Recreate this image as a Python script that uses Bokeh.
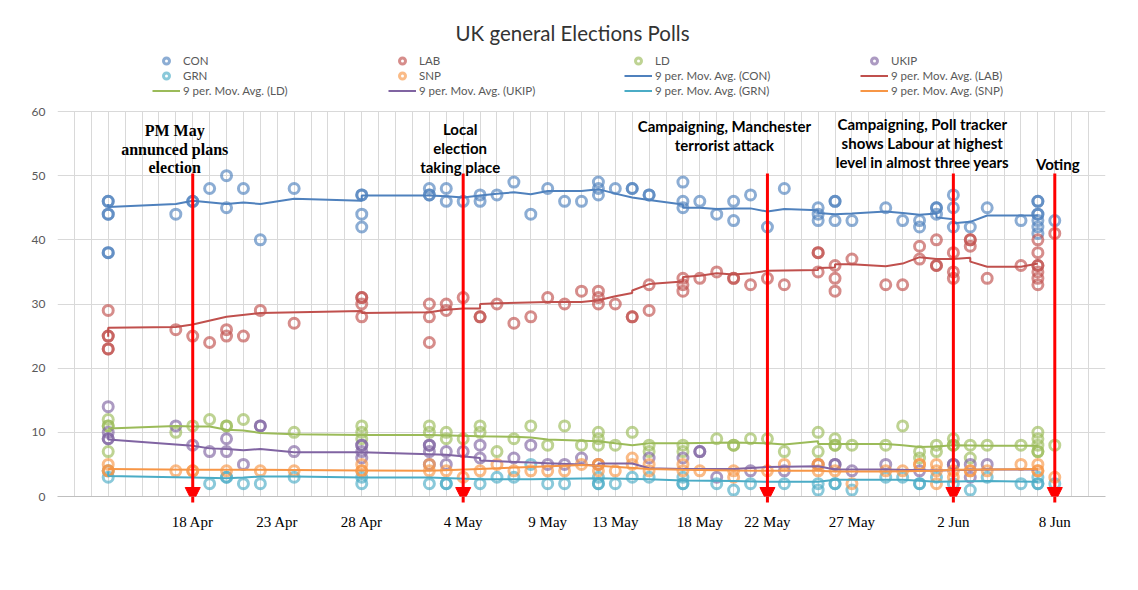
import datetime as dt
from bokeh.plotting import figure
from bokeh.models import (FixedTicker, Legend, LegendItem, Label, Arrow, NormalHead, Range1d, Grid)
from bokeh.embed import file_html
from bokeh.resources import INLINE

# ---------------- data (poll shares, %) ----------------
START = dt.date(2017, 4, 10)

con = {"13 Apr": [46, 46, 44, 44, 38, 38], "17 Apr": [44], "18 Apr": [46, 46], "19 Apr": [48],
       "20 Apr": [50, 45], "21 Apr": [48], "22 Apr": [40], "24 Apr": [48], "28 Apr": [47, 47, 44, 42],
       "2 May": [48, 47, 47], "3 May": [48, 46], "4 May": [46], "5 May": [47, 46], "6 May": [47],
       "7 May": [49], "8 May": [44], "9 May": [48], "10 May": [46], "11 May": [46], "12 May": [49, 48, 47],
       "13 May": [48], "14 May": [48, 48], "15 May": [47, 47], "17 May": [49, 46, 45], "18 May": [46],
       "19 May": [44], "20 May": [46, 43], "21 May": [47], "22 May": [42], "23 May": [48],
       "25 May": [45, 44, 43], "26 May": [46, 46, 43], "27 May": [43], "29 May": [45], "30 May": [43],
       "31 May": [43, 42], "1 Jun": [45, 45, 44], "2 Jun": [47, 45, 42], "3 Jun": [42], "4 Jun": [45],
       "6 Jun": [43], "7 Jun": [46, 46, 44, 44, 43, 42, 41], "8 Jun": [43]}

lab = {"13 Apr": [29, 25, 25, 23, 23], "17 Apr": [26], "18 Apr": [25], "19 Apr": [24], "20 Apr": [26, 25],
       "21 Apr": [25], "22 Apr": [29], "24 Apr": [27], "28 Apr": [31, 31, 30, 28], "2 May": [30, 28, 24],
       "3 May": [30, 29], "4 May": [31], "5 May": [28, 28], "6 May": [30], "7 May": [27], "8 May": [28],
       "9 May": [31], "10 May": [30], "11 May": [32], "12 May": [32, 31, 30], "13 May": [30],
       "14 May": [28, 28], "15 May": [33, 29], "17 May": [34, 33, 32], "18 May": [34], "19 May": [35],
       "20 May": [34, 34], "21 May": [33], "22 May": [34], "23 May": [33], "25 May": [38, 38, 35],
       "26 May": [36, 34, 32], "27 May": [37], "29 May": [33], "30 May": [33], "31 May": [39, 37],
       "1 Jun": [40, 36, 36], "2 Jun": [38, 35, 34], "3 Jun": [40, 40, 39], "4 Jun": [34], "6 Jun": [36],
       "7 Jun": [40, 38, 36, 36, 35, 34, 33], "8 Jun": [41]}

ld = {"13 Apr": [12, 11, 11, 7], "17 Apr": [10], "18 Apr": [11], "19 Apr": [12], "20 Apr": [11, 11],
      "21 Apr": [12], "24 Apr": [10], "28 Apr": [11, 10, 9], "2 May": [11, 10], "3 May": [10, 9],
      "4 May": [9], "5 May": [11, 10], "6 May": [7], "7 May": [9], "8 May": [11], "9 May": [8],
      "10 May": [11], "11 May": [8], "12 May": [10, 9, 8], "13 May": [8], "14 May": [10], "15 May": [8, 7],
      "17 May": [8, 7], "19 May": [9], "20 May": [8, 8], "21 May": [9], "22 May": [9], "23 May": [7],
      "25 May": [10, 7], "26 May": [9, 8, 8], "27 May": [8], "29 May": [8], "30 May": [11],
      "31 May": [7, 6], "1 Jun": [8, 7], "2 Jun": [9, 8, 8], "3 Jun": [8, 6], "4 Jun": [8], "6 Jun": [8],
      "7 Jun": [10, 9, 8, 7, 7], "8 Jun": [8]}

ukip = {"13 Apr": [14, 10, 9, 9], "17 Apr": [11], "18 Apr": [8], "19 Apr": [7], "20 Apr": [9, 7],
        "21 Apr": [5], "22 Apr": [11, 11], "24 Apr": [7], "28 Apr": [8, 8, 7, 6], "2 May": [8, 8, 7, 5],
        "3 May": [7, 5], "4 May": [7], "5 May": [8, 6], "7 May": [6], "8 May": [8], "9 May": [5],
        "10 May": [5], "11 May": [6], "12 May": [5], "15 May": [6], "17 May": [6], "18 May": [7, 7],
        "19 May": [3], "21 May": [4], "23 May": [4], "25 May": [5], "26 May": [5, 5], "27 May": [4],
        "29 May": [5], "31 May": [4], "2 Jun": [5, 5], "3 Jun": [5, 3], "4 Jun": [5]}

grn = {"13 Apr": [4, 3], "19 Apr": [2], "20 Apr": [3, 3], "21 Apr": [2], "22 Apr": [2], "24 Apr": [3],
       "28 Apr": [3, 2], "2 May": [2], "3 May": [2, 2], "5 May": [2], "6 May": [3], "7 May": [3],
       "8 May": [5], "9 May": [2], "10 May": [2], "12 May": [3, 2, 2], "13 May": [2], "14 May": [3],
       "15 May": [3], "17 May": [3, 2, 2], "19 May": [2], "20 May": [1], "21 May": [2], "23 May": [2],
       "25 May": [2, 1], "26 May": [2, 2], "27 May": [1], "29 May": [3], "30 May": [3], "31 May": [2, 2],
       "1 Jun": [3], "2 Jun": [2], "3 Jun": [1], "4 Jun": [3], "6 Jun": [2], "7 Jun": [3, 2, 2],
       "8 Jun": [2]}

snp = {"13 Apr": [5, 4, 4], "17 Apr": [4], "18 Apr": [4, 4], "20 Apr": [4], "22 Apr": [4], "24 Apr": [4],
       "28 Apr": [5, 4, 4], "2 May": [5, 4], "3 May": [4], "4 May": [3], "5 May": [4], "6 May": [5],
       "7 May": [4], "8 May": [4], "9 May": [4], "10 May": [4], "11 May": [5], "12 May": [5, 5, 4],
       "13 May": [4], "14 May": [6, 5], "15 May": [5, 4], "17 May": [5, 4], "18 May": [4],
       "20 May": [4, 3], "22 May": [4], "23 May": [5], "25 May": [5, 5, 4], "26 May": [4], "27 May": [2],
       "29 May": [4], "30 May": [4], "31 May": [5, 5], "1 Jun": [5, 4, 2], "2 Jun": [4, 3], "3 Jun": [4, 4],
       "4 Jun": [4], "6 Jun": [5], "7 Jun": [5, 4, 4], "8 Jun": [3]}

# 9 period moving averages
ma_con = [("13 Apr", 45.6), ("13 Apr", 45.1), ("17 Apr", 45.6), ("18 Apr", 46.1), ("20 Apr", 45.6),
          ("21 Apr", 45.8), ("22 Apr", 45.6), ("24 Apr", 46.4), ("28 Apr", 46.1), ("28 Apr", 46.9),
          ("2 May", 46.9), ("3 May", 46.8), ("4 May", 46.6), ("5 May", 46.9), ("6 May", 47.2),
          ("7 May", 47.4), ("8 May", 47.1), ("9 May", 47.6), ("11 May", 47.6), ("12 May", 47.9),
          ("13 May", 47.2), ("14 May", 46.6), ("15 May", 46.2), ("17 May", 45.5), ("17 May", 45.0),
          ("18 May", 45.0), ("19 May", 44.8), ("20 May", 44.9), ("21 May", 44.9), ("22 May", 44.4),
          ("23 May", 44.8), ("25 May", 44.6), ("25 May", 44.2), ("26 May", 44.0), ("27 May", 44.1),
          ("29 May", 44.4), ("30 May", 44.2), ("31 May", 43.9), ("1 Jun", 44.1), ("1 Jun", 43.5),
          ("2 Jun", 43.2), ("2 Jun", 42.6), ("3 Jun", 42.8), ("4 Jun", 43.8), ("6 Jun", 43.8),
          ("7 Jun", 43.8)]
ma_lab = [("13 Apr", 24.9), ("13 Apr", 26.3), ("17 Apr", 26.4), ("18 Apr", 26.8), ("20 Apr", 28.0),
          ("22 Apr", 28.6), ("28 Apr", 28.9), ("28 Apr", 28.6), ("2 May", 28.7), ("3 May", 29.1),
          ("4 May", 29.3), ("5 May", 29.3), ("5 May", 30.0), ("6 May", 30.1), ("9 May", 30.3),
          ("11 May", 30.3), ("12 May", 30.6), ("13 May", 31.2), ("14 May", 31.7), ("14 May", 32.1),
          ("15 May", 33.1), ("17 May", 33.5), ("17 May", 34.2), ("18 May", 34.4), ("19 May", 34.8),
          ("20 May", 34.6), ("21 May", 34.8), ("22 May", 35.2), ("25 May", 35.3), ("25 May", 35.6),
          ("26 May", 35.7), ("26 May", 36.2), ("27 May", 36.2), ("29 May", 35.9), ("30 May", 36.3),
          ("31 May", 37.3), ("1 Jun", 37.0), ("2 Jun", 37.0), ("3 Jun", 37.2), ("3 Jun", 36.6),
          ("4 Jun", 35.8), ("6 Jun", 35.8), ("7 Jun", 36.3)]
ma_ld = [("13 Apr", 10.6), ("17 Apr", 11.0), ("18 Apr", 10.9), ("19 Apr", 10.9), ("20 Apr", 10.4),
         ("21 Apr", 10.3), ("22 Apr", 9.9), ("24 Apr", 9.7), ("28 Apr", 9.6), ("2 May", 9.6),
         ("5 May", 9.4), ("7 May", 9.3), ("8 May", 9.2), ("9 May", 8.9), ("12 May", 8.6), ("14 May", 8.0),
         ("15 May", 8.3), ("17 May", 8.3), ("20 May", 8.4), ("22 May", 8.3), ("23 May", 8.1),
         ("25 May", 8.6), ("25 May", 8.2), ("26 May", 8.2), ("29 May", 8.2), ("30 May", 8.0),
         ("31 May", 7.7), ("1 Jun", 7.8), ("2 Jun", 8.0), ("4 Jun", 7.9), ("7 Jun", 7.9)]
ma_ukip = [("13 Apr", 9.9), ("13 Apr", 8.9), ("18 Apr", 7.9), ("19 Apr", 7.5), ("20 Apr", 7.4),
           ("21 Apr", 7.2), ("22 Apr", 7.4), ("24 Apr", 6.9), ("28 Apr", 6.9), ("2 May", 6.6),
           ("3 May", 6.5), ("5 May", 6.0), ("5 May", 5.6), ("8 May", 5.3), ("9 May", 5.2), ("11 May", 5.0),
           ("12 May", 4.8), ("12 May", 5.15), ("14 May", 5.15), ("15 May", 4.4), ("17 May", 4.3),
           ("20 May", 4.3), ("22 May", 4.6), ("25 May", 4.7), ("26 May", 4.2), ("29 May", 4.2),
           ("1 Jun", 4.05), ("4 Jun", 4.2), ("7 Jun", 4.2)]
ma_grn = [("13 Apr", 3.9), ("13 Apr", 3.2), ("17 Apr", 3.0), ("18 Apr", 2.95), ("20 Apr", 2.85),
          ("21 Apr", 2.95), ("22 Apr", 3.1), ("24 Apr", 3.1), ("28 Apr", 2.95), ("2 May", 2.95),
          ("5 May", 2.7), ("8 May", 2.7), ("12 May", 2.85), ("15 May", 2.7), ("17 May", 2.5),
          ("20 May", 2.4), ("22 May", 2.3), ("25 May", 2.3), ("26 May", 2.6), ("30 May", 2.6),
          ("1 Jun", 2.3), ("4 Jun", 2.4), ("7 Jun", 2.3)]
ma_snp = [("13 Apr", 4.3), ("18 Apr", 4.15), ("22 Apr", 4.15), ("28 Apr", 4.05), ("2 May", 4.0),
          ("5 May", 4.3), ("8 May", 4.6), ("11 May", 4.9), ("12 May", 4.8), ("15 May", 4.3),
          ("17 May", 4.15), ("20 May", 4.05), ("22 May", 4.0), ("25 May", 4.0), ("26 May", 3.9),
          ("29 May", 3.9), ("1 Jun", 4.0), ("2 Jun", 4.15), ("7 Jun", 4.3)]

tick_labels = ["18 Apr", "23 Apr", "28 Apr", "4 May", "9 May", "13 May", "18 May", "22 May",
               "27 May", "2 Jun", "8 Jun"]

events = [("18 Apr", ["PM May", "annunced plans", "election"], "serif", -18, 130),
          ("4 May", ["Local", "election", "taking place"], "sans", -3, 128),
          ("22 May", ["Campaigning, Manchester", "terrorist attack"], "sans", -43, 125),
          ("2 Jun", ["Campaigning, Poll tracker", "shows Labour at highest",
                     "level in almost three years"], "sans", -31, 123),
          ("8 Jun", ["Voting"], "sans", 3, 163)]

series = [("CON", con, ma_con, "#4F81BD"), ("LAB", lab, ma_lab, "#C0504D"),
          ("LD", ld, ma_ld, "#9BBB59"), ("UKIP", ukip, ma_ukip, "#8064A2"),
          ("GRN", grn, ma_grn, "#4BACC6"), ("SNP", snp, ma_snp, "#F79646")]


def day(s):
    return (dt.datetime.strptime(s + " 2017", "%d %b %Y").date() - START).days


# ---------------- layout geometry (page px) ----------------
W, H = 1130, 582
FL, FW = 57, 1048            # frame left / width
Y60, Y0 = 111, 496           # page y of value 60 and of value 0
FT = 50                      # frame top (frame extends above 60 to host the legend)
NDAYS = 62
PXV = (Y0 - Y60) / 60.0
YMAX = (Y0 - FT) / PXV


def pv(py):
    return (Y0 - py) / PXV


p = figure(width=W, height=H, x_range=Range1d(0, NDAYS), y_range=Range1d(0, YMAX),
           output_backend="svg", toolbar_location=None,
           min_border_left=FL, min_border_right=W - FL - FW,
           min_border_top=FT, min_border_bottom=H - Y0)
p.outline_line_color = None
p.background_fill_color = "white"
p.border_fill_color = "white"

p.title.text = "UK general Elections Polls"
p.title.align = "left"
p.title.offset = 455 - FL
p.title.text_font = "Lato"
p.title.text_font_size = "20.5px"
p.title.text_font_style = "normal"
p.title.text_color = "#333333"
p.title.standoff = FT - 5 - 33

p.xaxis.ticker = FixedTicker(ticks=[day(t) for t in tick_labels])
p.xaxis.major_label_overrides = {day(t): t for t in tick_labels}
p.xaxis.axis_line_color = "#bfbfbf"
p.xaxis.major_tick_line_color = None
p.xaxis.minor_tick_line_color = None
p.xaxis.major_tick_out = 0
p.xaxis.major_label_standoff = 17
p.xaxis.major_label_text_font = "Liberation Serif"
p.xaxis.major_label_text_font_size = "15px"
p.xaxis.major_label_text_color = "black"

p.yaxis.ticker = FixedTicker(ticks=list(range(0, 61, 10)))
p.yaxis.axis_line_color = None
p.yaxis.major_tick_line_color = None
p.yaxis.minor_tick_line_color = None
p.yaxis.major_tick_out = 0
p.yaxis.major_label_standoff = 12
p.yaxis.major_label_text_font = "Lato"
p.yaxis.major_label_text_font_size = "12px"
p.yaxis.major_label_text_color = "#595959"

p.ygrid.ticker = FixedTicker(ticks=list(range(0, 61, 10)))
p.ygrid.grid_line_color = "#d9d9d9"

grid_days = list(range(0, NDAYS + 1))
if "cross_bounds" in Grid.properties():
    p.xgrid.ticker = FixedTicker(ticks=grid_days)
    p.xgrid.grid_line_color = "#d9d9d9"
    p.xgrid.cross_bounds = (0, 60)
else:
    p.xgrid.grid_line_color = None
    p.segment(x0=grid_days, y0=[0] * len(grid_days), x1=grid_days, y1=[60] * len(grid_days),
              line_color="#d9d9d9", line_width=1)

marker_r = {}
for name, pts, ma, col in series:
    xs, ys = [], []
    for d, vals in pts.items():
        for v in vals:
            xs.append(day(d))
            ys.append(v)
    marker_r[name] = p.scatter(xs, ys, marker="circle", size=10, fill_color=None,
                               line_color=col, line_width=3, line_alpha=0.65)

line_r = {}
for name, pts, ma, col in series:
    line_r[name] = p.line([day(d) for d, v in ma], [v for d, v in ma],
                          line_color=col, line_width=2)

names = ["CON", "LAB", "LD", "UKIP", "GRN", "SNP"]
items = [LegendItem(label=n, renderers=[marker_r[n]]) for n in names]
items += [LegendItem(label="9 per. Mov. Avg. (%s)" % n, renderers=[line_r[n]]) for n in names]

legend = Legend(items=items, orientation="horizontal", ncols=4,
                location=(152 - FL, Y0 - 97.5),
                glyph_width=28, glyph_height=15, label_height=15, label_width=205,
                label_standoff=3, spacing=0, padding=0, margin=0,
                border_line_color=None, background_fill_alpha=0,
                label_text_font="Lato", label_text_font_size="11.5px",
                label_text_color="#595959")
p.add_layout(legend)

# event arrows and annotations
for d, lines, fam, dx, y0 in events:
    x = day(d)
    p.add_layout(Arrow(x_start=x, y_start=pv(173), x_end=x, y_end=pv(502),
                       line_color="red", line_width=3,
                       end=NormalHead(size=15, fill_color="red", line_color="red", line_width=1)))
    font = "Liberation Serif" if fam == "serif" else "Lato"
    size = "16px" if fam == "serif" else "15px"
    step = 18.5 if fam == "serif" else 19
    for i, t in enumerate(lines):
        p.add_layout(Label(x=x, y=pv(y0 + i * step), x_offset=dx, text=t, text_font=font,
                           text_font_style="bold", text_font_size=size, text_color="black",
                           text_align="center", text_baseline="middle"))

open("out.html", "w").write(file_html(p, INLINE))
